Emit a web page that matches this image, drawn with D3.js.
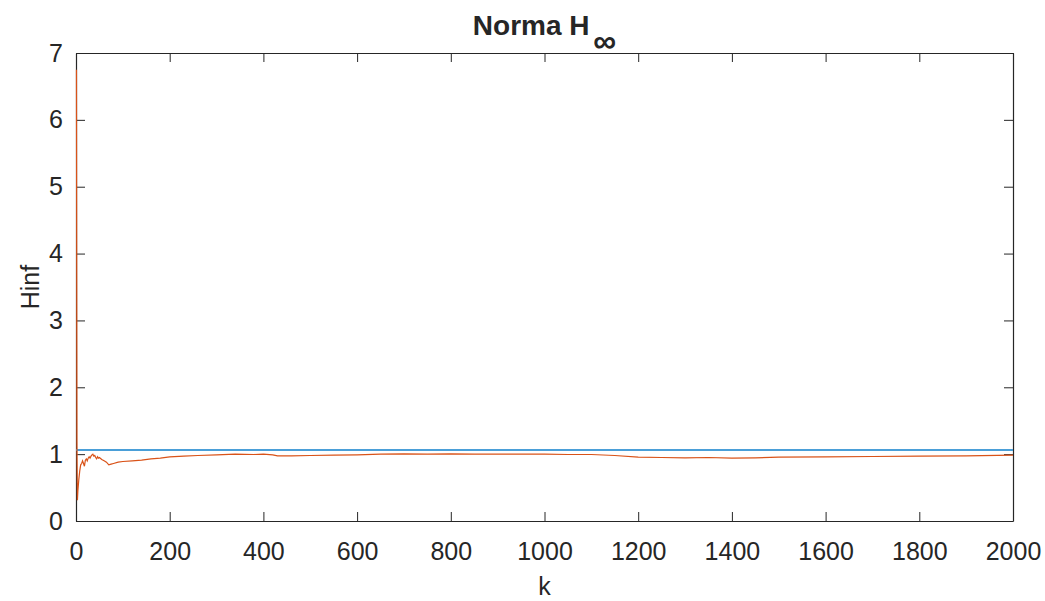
<!DOCTYPE html>
<html>
<head>
<meta charset="utf-8">
<script src="https://cdn.jsdelivr.net/npm/d3@7"></script>
<style>
  body { margin: 0; background: #fff; }
  text { font-family: "Liberation Sans", Arial, sans-serif; fill: #262626; }
</style>
</head>
<body>
<div id="chart"></div>
<script>
var svgWidth = 1045;
var svgHeight = 601;

var margin = { top: 53, left: 76, right: 32, bottom: 80 };
var width = svgWidth - margin.left - margin.right;
var height = svgHeight - margin.top - margin.bottom;

// data
var kValues = [1, 2, 3, 4, 6, 8, 10, 12, 14, 16, 18, 20, 22, 24, 26, 28, 30, 32, 34, 36, 38, 40, 42, 44, 46, 48, 50,
  55, 60, 65, 70, 75, 80, 90, 100, 120, 140, 160, 180, 200, 230, 260, 300, 340, 380, 400, 420, 430, 460, 500,
  550, 600, 650, 700, 750, 800, 850, 900, 950, 1000, 1050, 1100, 1150, 1200, 1250, 1300, 1350, 1400, 1450,
  1500, 1600, 1700, 1800, 1900, 2000];
var hinfValues = [6.75, 1.2, 0.31, 0.45, 0.62, 0.75, 0.84, 0.86, 0.90, 0.86, 0.82, 0.91, 0.93, 0.90, 0.94, 0.96,
  0.94, 0.97, 0.99, 1.0, 0.97, 0.98, 0.95, 0.93, 0.96, 0.94, 0.95,
  0.92, 0.90, 0.88, 0.84, 0.85, 0.86, 0.88, 0.89, 0.90, 0.91, 0.93, 0.94, 0.96, 0.97, 0.98, 0.99, 1.0, 0.995,
  1.0, 0.99, 0.975, 0.975, 0.98,
  0.985, 0.99, 1.0, 1.005, 1.0, 1.005, 1.0, 1.0, 1.0, 1.0, 0.995, 0.995, 0.98, 0.955, 0.95, 0.945, 0.95, 0.94,
  0.945, 0.955, 0.96, 0.965, 0.97, 0.975, 0.985];
var boundValue = 1.062;
var xTicks = [0, 200, 400, 600, 800, 1000, 1200, 1400, 1600, 1800, 2000];
var yTicks = [0, 1, 2, 3, 4, 5, 6, 7];

var svg = d3.select("#chart")
  .append("svg")
  .attr("width", svgWidth)
  .attr("height", svgHeight);

var chartGroup = svg.append("g")
  .attr("transform", `translate(${margin.left}, ${margin.top})`);

var xScale = d3.scaleLinear().domain([0, 2000]).range([0, width]);
var yScale = d3.scaleLinear().domain([0, 7]).range([height, 0]);

var tickLen = 9;

// axes (box with inward ticks on all four sides)
var xAxis = d3.axisBottom(xScale).tickValues(xTicks).tickSize(-tickLen).tickSizeOuter(0)
  .tickPadding(21).tickFormat(d3.format("d"));
var yAxis = d3.axisLeft(yScale).tickValues(yTicks).tickSize(-tickLen).tickSizeOuter(0)
  .tickPadding(13).tickFormat(d3.format("d"));

chartGroup.append("g")
  .attr("transform", `translate(0, ${height})`)
  .call(xAxis);
chartGroup.append("g").call(yAxis);

chartGroup.append("g")
  .call(d3.axisTop(xScale).tickValues(xTicks).tickSize(-tickLen).tickSizeOuter(0).tickFormat(""));
chartGroup.append("g")
  .attr("transform", `translate(${width}, 0)`)
  .call(d3.axisRight(yScale).tickValues(yTicks).tickSize(-tickLen).tickSizeOuter(0).tickFormat(""));

chartGroup.selectAll(".domain").attr("stroke", "#262626").attr("stroke-width", 1.2);
chartGroup.selectAll(".tick line").attr("stroke", "#262626");
chartGroup.selectAll(".tick text")
  .attr("font-size", 25)
  .attr("fill", "#262626")
  .style("font-family", "'Liberation Sans', Arial, sans-serif");

// lines
var line = d3.line()
  .x((d, i) => xScale(kValues[i]))
  .y(d => yScale(d));

chartGroup.append("line")
  .attr("x1", xScale(0)).attr("x2", xScale(2000))
  .attr("y1", yScale(boundValue)).attr("y2", yScale(boundValue))
  .attr("stroke", "#4a9fd8")
  .attr("stroke-width", 2);

chartGroup.append("path")
  .datum(hinfValues)
  .attr("d", line)
  .attr("fill", "none")
  .attr("stroke", "#d95319")
  .attr("stroke-width", 1.2);

// labels
svg.append("text")
  .attr("x", margin.left + width / 2)
  .attr("y", 595)
  .attr("text-anchor", "middle")
  .attr("font-size", 25)
  .text("k");

svg.append("text")
  .attr("transform", `translate(39, ${margin.top + height / 2}) rotate(-90)`)
  .attr("text-anchor", "middle")
  .attr("font-size", 25)
  .text("Hinf");

var title = svg.append("text")
  .attr("x", margin.left + width / 2)
  .attr("y", 35)
  .attr("text-anchor", "middle")
  .attr("font-size", 28)
  .attr("font-weight", "bold")
  .attr("fill", "#000");
title.append("tspan").text("Norma H ");
title.append("tspan")
  .attr("dy", 17)
  .attr("dx", -4)
  .attr("font-size", 32)
  .text("\u221e");
</script>
</body>
</html>
